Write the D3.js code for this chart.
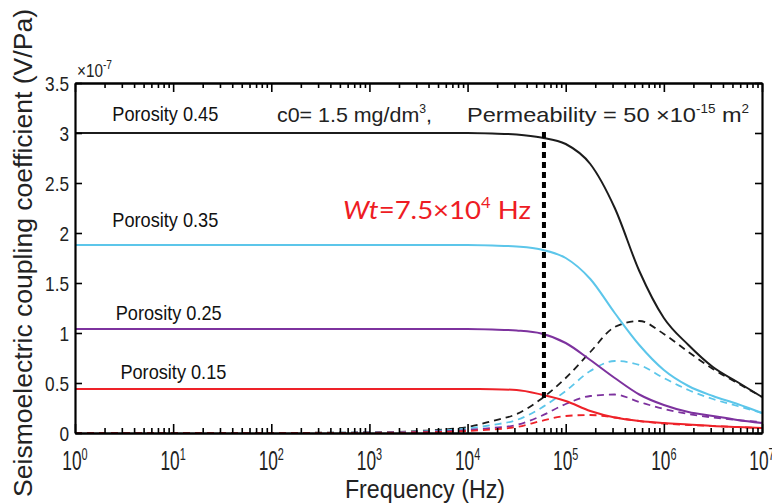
<!DOCTYPE html>
<html>
<head>
<meta charset="utf-8">
<script src="https://cdn.jsdelivr.net/npm/d3@7"></script>
<style>
  body { margin: 0; background: #fff; }
  svg { display: block; font-family: "Liberation Sans", Arial, sans-serif; }
</style>
</head>
<body>
<svg id="chart" width="772" height="504"></svg>
<script>
// frequency grid (Hz), shared by all curves
const freqs = [1, 10, 100, 1e3, 3.16e3, 1e4, 1.78e4, 3.16e4, 5.62e4, 1e5, 1.78e5, 3.16e5, 5.62e5, 1e6, 1.78e6, 3.16e6, 5.62e6, 1e7];

// coupling coefficient, units of 1e-7 V/Pa, solid curves
const solid045 = [3.0, 3.0, 3.0, 3.0, 3.0, 3.0, 2.995, 2.985, 2.955, 2.89, 2.69, 2.25, 1.62, 1.15, 0.88, 0.66, 0.51, 0.36];
const solid035 = [1.88, 1.88, 1.88, 1.88, 1.88, 1.88, 1.875, 1.865, 1.835, 1.75, 1.54, 1.20, 0.88, 0.63, 0.47, 0.37, 0.29, 0.20];
const solid025 = [1.04, 1.04, 1.04, 1.04, 1.04, 1.04, 1.035, 1.025, 0.995, 0.90, 0.73, 0.55, 0.385, 0.28, 0.21, 0.17, 0.13, 0.10];
const solid015 = [0.44, 0.44, 0.44, 0.44, 0.44, 0.44, 0.438, 0.43, 0.385, 0.32, 0.22, 0.155, 0.12, 0.10, 0.085, 0.07, 0.06, 0.05];

// dashed curves
const dash045 = [0, 0, 0.001, 0.006, 0.02, 0.06, 0.12, 0.19, 0.34, 0.55, 0.81, 1.06, 1.12, 0.99, 0.81, 0.64, 0.50, 0.36];
const dash035 = [0, 0, 0.001, 0.004, 0.015, 0.045, 0.08, 0.13, 0.25, 0.42, 0.62, 0.72, 0.68, 0.55, 0.43, 0.34, 0.27, 0.20];
const dash025 = [0, 0, 0.0005, 0.003, 0.01, 0.03, 0.05, 0.08, 0.17, 0.29, 0.37, 0.385, 0.31, 0.24, 0.19, 0.155, 0.13, 0.11];
const dash015 = [0, 0, 0.0003, 0.002, 0.006, 0.02, 0.035, 0.06, 0.12, 0.17, 0.18, 0.155, 0.12, 0.095, 0.08, 0.07, 0.06, 0.05];

const porosity = ["Porosity 0.45", "Porosity 0.35", "Porosity 0.25", "Porosity 0.15"];
const colors = ["#1c1c1c", "#5cc6ea", "#7d329e", "#ee2229"];
// where each label sits (Hz, value)
const labelFreq = [2.4, 2.4, 2.6, 2.9];
const labelVal = [3.12, 2.06, 1.13, 0.54];

const yTicks = [0, 0.5, 1, 1.5, 2, 2.5, 3, 3.5];
const xTicks = [1, 10, 100, 1e3, 1e4, 1e5, 1e6, 1e7];
const xExp = ["0", "1", "2", "3", "4", "5", "6", "7"];

// transition frequency marker
const wtFreq = 6e4;
const wtRange = [0.35, 3.05];

let svg = d3.select("#chart");

let margin = { top: 83, right: 10, bottom: 71, left: 75 };
let plotWidth = 772 - margin.left - margin.right;
let plotHeight = 504 - margin.top - margin.bottom;

let x = d3.scaleLog().domain([1, 1e7]).range([0, plotWidth]);
let y = d3.scaleLinear().domain([0, 3.5]).range([plotHeight, 0]);

let plot = svg.append("g").attr("transform", "translate(" + margin.left + "," + margin.top + ")");

function condense(sel, k) {
    sel.each(function() {
        let w = this.getComputedTextLength();
        this.setAttribute("textLength", w * k);
        this.setAttribute("lengthAdjust", "spacingAndGlyphs");
    });
}

// minor log ticks
let minors = [];
for (let e = 0; e < 7; e++) {
    for (let m = 2; m < 10; m++) minors.push(m * Math.pow(10, e));
}

// curves
let line = d3.line()
    .x((d) => x(d[0]))
    .y((d) => y(d[1]))
    .curve(d3.curveMonotoneX);

let dashed = [dash045, dash035, dash025, dash015];
let solid = [solid045, solid035, solid025, solid015];

dashed.forEach((vals, i) => {
    plot.append("path")
        .datum(freqs.map((f, j) => [f, vals[j]]))
        .attr("d", line)
        .attr("fill", "none")
        .attr("stroke", colors[i])
        .attr("stroke-width", 1.8)
        .attr("stroke-dasharray", "7,5");
});

solid.forEach((vals, i) => {
    plot.append("path")
        .datum(freqs.map((f, j) => [f, vals[j]]))
        .attr("d", line)
        .attr("fill", "none")
        .attr("stroke", colors[i])
        .attr("stroke-width", 2);
});

// Wt marker
plot.append("line")
    .attr("x1", x(wtFreq)).attr("x2", x(wtFreq))
    .attr("y1", y(wtRange[0])).attr("y2", y(wtRange[1]))
    .attr("stroke", "#000")
    .attr("stroke-width", 4)
    .attr("stroke-dasharray", "6,4");

// axes
let axisStyle = (g) => {
    g.select(".domain").attr("stroke", "#000").attr("stroke-width", 2.2);
    g.selectAll(".tick line").attr("stroke", "#000").attr("stroke-width", 1.6);
};
let noText = (g) => g.selectAll(".tick text").remove();

plot.append("g").attr("transform", "translate(0," + plotHeight + ")")
    .call(d3.axisBottom(x).tickValues(xTicks).tickSize(-9).tickSizeOuter(0))
    .call(axisStyle).call(noText);
plot.append("g").attr("transform", "translate(0," + plotHeight + ")")
    .call(d3.axisBottom(x).tickValues(minors).tickSize(-5).tickSizeOuter(0))
    .call(axisStyle).call(noText);
plot.append("g")
    .call(d3.axisTop(x).tickValues(xTicks).tickSize(-9).tickSizeOuter(0))
    .call(axisStyle).call(noText);
plot.append("g")
    .call(d3.axisTop(x).tickValues(minors).tickSize(-5).tickSizeOuter(0))
    .call(axisStyle).call(noText);

let yLeft = plot.append("g")
    .call(d3.axisLeft(y).tickValues(yTicks).tickSize(-7).tickSizeOuter(0).tickPadding(6).tickFormat(d3.format("")))
    .call(axisStyle);
plot.append("g").attr("transform", "translate(" + plotWidth + ",0)")
    .call(d3.axisRight(y).tickValues(yTicks).tickSize(-7).tickSizeOuter(0))
    .call(axisStyle).call(noText);

yLeft.selectAll(".tick text")
    .attr("fill", "#222")
    .style("font-size", "21px")
    .attr("dy", "0.36em");
condense(yLeft.selectAll(".tick text"), 0.82);

// x tick labels with exponents (narrow, as in the original)
xTicks.forEach((t, i) => {
    let g = plot.append("g")
        .attr("transform", "translate(" + x(t) + "," + (plotHeight + 37) + ") scale(0.64,1)");
    let txt = g.append("text")
        .attr("text-anchor", "middle")
        .style("font-size", "27px")
        .attr("fill", "#222");
    txt.append("tspan").text("10");
    txt.append("tspan").text(xExp[i]).attr("dy", "-10").style("font-size", "17px");
});

// exponent of the y axis
let mult = svg.append("g")
    .attr("transform", "translate(77,77) scale(0.85,1)")
    .append("text")
    .attr("fill", "#222")
    .style("font-size", "18px");
mult.append("tspan").text("×10");
mult.append("tspan").text("-7").attr("dy", "-8").style("font-size", "12px");

// axis titles
let xt = svg.append("text")
    .text("Frequency (Hz)")
    .attr("x", 425).attr("y", 498)
    .attr("text-anchor", "middle")
    .attr("fill", "#222")
    .style("font-size", "25px");
condense(xt, 0.93);

let yt = svg.append("text")
    .text("Seismoelectric coupling coefficient (V/Pa)")
    .attr("transform", "translate(32,253) rotate(-90)")
    .attr("text-anchor", "middle")
    .attr("fill", "#222")
    .style("font-size", "25px");
yt.attr("textLength", 488).attr("lengthAdjust", "spacingAndGlyphs");

// porosity labels
porosity.forEach((p, i) => {
    let t = plot.append("text")
        .text(p)
        .attr("x", x(labelFreq[i]))
        .attr("y", y(labelVal[i]))
        .attr("fill", "#111")
        .style("font-size", "21px");
    t.attr("textLength", 106).attr("lengthAdjust", "spacingAndGlyphs");
});

// condition annotation
let cond = svg.append("text")
    .attr("x", 277).attr("y", 122)
    .attr("fill", "#222")
    .style("font-size", "21px");
cond.append("tspan").text("c0= 1.5 mg/dm");
cond.append("tspan").text("3").attr("dy", "-9").style("font-size", "12px");
cond.append("tspan").text(",").attr("dy", "9");
cond.attr("textLength", 155).attr("lengthAdjust", "spacingAndGlyphs");

let cond2 = svg.append("text")
    .attr("x", 467).attr("y", 122)
    .attr("fill", "#222")
    .style("font-size", "21px");
cond2.append("tspan").text("Permeability = 50 ×10");
cond2.append("tspan").text("-15").attr("dy", "-9").style("font-size", "12px");
cond2.append("tspan").text(" m").attr("dy", "9");
cond2.append("tspan").text("2").attr("dy", "-9").style("font-size", "12px");
cond2.attr("textLength", 282).attr("lengthAdjust", "spacingAndGlyphs");

// Wt annotation
let wt = svg.append("text")
    .attr("x", 343).attr("y", 219)
    .attr("fill", "#ee1c24")
    .style("font-family", "Lato, 'Open Sans', sans-serif")
    .style("font-size", "25px");
wt.append("tspan").text("Wt").style("font-style", "italic");
wt.append("tspan").text("=7.5×10");
wt.append("tspan").text("4").attr("dy", "-11").style("font-size", "15px");
wt.append("tspan").text(" Hz").attr("dy", "11");
wt.attr("textLength", 188).attr("lengthAdjust", "spacingAndGlyphs");
</script>
</body>
</html>
